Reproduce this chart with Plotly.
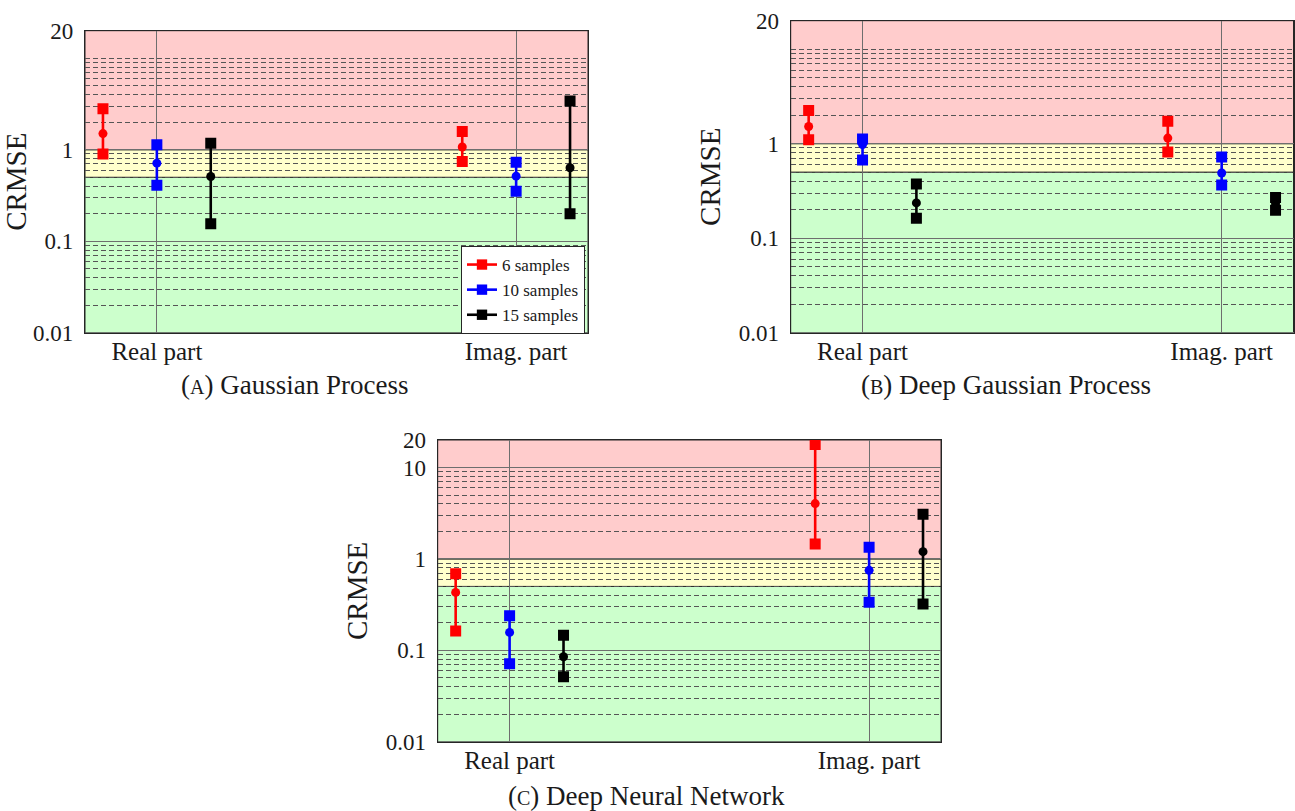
import math
import plotly.graph_objects as go

W, H = 1295, 811

categories = ["Real part", "Imag. part"]
series_names = ["6 samples", "10 samples", "15 samples"]
series_colors = ["#ff0000", "#0000ff", "#000000"]

# Each list: [series][category]  (series order: 6, 10, 15 samples; category order: Real, Imag)
gp_low = [[0.90, 0.745], [0.41, 0.352], [0.155, 0.20]]
gp_mid = [[1.50, 1.07], [0.713, 0.514], [0.51, 0.635]]
gp_high = [[2.81, 1.585], [1.13, 0.73], [1.18, 3.40]]

dgp_low = [[1.10, 0.815], [0.67, 0.365], [0.163, 0.198]]
dgp_mid = [[1.52, 1.146], [0.98, 0.49], [0.236, 0.232]]
dgp_high = [[2.25, 1.73], [1.12, 0.722], [0.374, 0.269]]

dnn_low = [[0.163, 1.46], [0.0713, 0.335], [0.0514, 0.321]]
dnn_mid = [[0.43, 4.03], [0.157, 0.75], [0.085, 1.2]]
dnn_high = [[0.69, 17.9], [0.239, 1.34], [0.146, 3.08]]

caption_letters = ["A", "B", "C"]
caption_titles = ["Gaussian Process", "Deep Gaussian Process", "Deep Neural Network"]
y_label = "CRMSE"

# thresholds of the coloured bands
band_edges = [0.01, 0.5, 1.0, 20.0]
band_colors = ["#ccffcc", "#ffffcc", "#ffcccc"]

FONT = "Liberation Serif"
TXT = "#1a1a1a"
offsets = [-0.15, 0.0, 0.15]

# panel boxes in pixels: (left, right, top, bottom), caption centre (x, y)
panels = [
    dict(box=(85, 588, 30.7, 332.7), cap=(294, 385), low=gp_low, mid=gp_mid, high=gp_high,
         ticks=[0.01, 0.1, 1, 20], legend=True),
    dict(box=(790.7, 1293.5, 20.7, 332.7), cap=(1006, 385), low=dgp_low, mid=dgp_mid, high=dgp_high,
         ticks=[0.01, 0.1, 1, 20], legend=False),
    dict(box=(437.7, 941, 440, 741.7), cap=(646, 796), low=dnn_low, mid=dnn_mid, high=dnn_high,
         ticks=[0.01, 0.1, 1, 10, 20], legend=False),
]

minor_vals = []
for dec in [0.01, 0.1, 1]:
    for k in range(2, 10):
        minor_vals.append(k * dec)

fig = go.Figure()
shapes = []
annotations = []

for p_i, p in enumerate(panels):
    idx = "" if p_i == 0 else str(p_i + 1)
    xa, ya = "x" + idx, "y" + idx
    l, r, t, b = p["box"]
    minors = list(minor_vals)
    if 10 not in p["ticks"]:
        minors.append(10)
    fig.update_layout(**{
        "xaxis" + idx: dict(
            domain=[l / W, r / W], anchor=ya, range=[0.8, 2.2],
            tickvals=[1, 2], ticktext=categories, showgrid=True,
            gridcolor="#6e6e6e", gridwidth=1, zeroline=False,
            showline=True, mirror=True, linecolor="#262626", linewidth=1.2,
            ticks="", ticklabelstandoff=-4, automargin=False,
            tickfont=dict(family=FONT, size=25, color=TXT),
            fixedrange=True,
        ),
        "yaxis" + idx: dict(
            domain=[1 - b / H, 1 - t / H], anchor=xa, type="log",
            range=[math.log10(0.01), math.log10(20)],
            tickvals=p["ticks"], ticktext=[f"{v:g}" for v in p["ticks"]],
            showgrid=True, gridcolor="#6e6e6e", gridwidth=1, zeroline=False,
            showline=True, mirror=True, linecolor="#262626", linewidth=1.2,
            ticks="", ticklabelstandoff=6, automargin=False,
            tickfont=dict(family=FONT, size=23, color=TXT),
            title=dict(text=y_label, font=dict(family=FONT, size=29, color=TXT), standoff=9),
            minor=dict(tickvals=minors, showgrid=True, griddash="5px,3px",
                       gridcolor="#555555", gridwidth=1, ticks=""),
            fixedrange=True,
        ),
    })
    for k in range(3):
        shapes.append(dict(
            type="rect", xref=xa + " domain", yref=ya, x0=0, x1=1,
            y0=band_edges[k], y1=band_edges[k + 1], fillcolor=band_colors[k],
            line=dict(color="#262626", width=1), layer="below",
        ))
    for s in range(3):
        for c in range(2):
            fig.add_trace(go.Scatter(
                x=[c + 1 + offsets[s]] * 3,
                y=[p["low"][s][c], p["mid"][s][c], p["high"][s][c]],
                xaxis=xa, yaxis=ya, mode="lines+markers",
                line=dict(color=series_colors[s], width=2.6),
                marker=dict(symbol=["square", "circle", "square"], size=[11, 9, 11],
                            color=series_colors[s], opacity=1, line=dict(width=0)),
                name=series_names[s], legendgroup=series_names[s],
                showlegend=(p["legend"] and c == 0), hoverinfo="y",
            ))
    cx, cy = p["cap"]
    annotations.append(dict(
        text=f"(<span style='font-size:20px'>{caption_letters[p_i]}</span>) {caption_titles[p_i]}",
        xref="paper", yref="paper", x=cx / W,
        y=1 - cy / H, xanchor="center", yanchor="middle", showarrow=False,
        font=dict(family=FONT, size=27, color=TXT),
    ))

fig.update_layout(
    width=W, height=H, margin=dict(l=0, r=0, t=0, b=0),
    paper_bgcolor="white", plot_bgcolor="white",
    shapes=shapes, annotations=annotations,
    legend=dict(x=585 / W, y=1 - 246 / H, xanchor="right", yanchor="top",
                bgcolor="white", bordercolor="#262626", borderwidth=1,
                font=dict(family=FONT, size=17, color=TXT),
                itemwidth=30, tracegroupgap=0),
)

fig.write_html("out.html")
